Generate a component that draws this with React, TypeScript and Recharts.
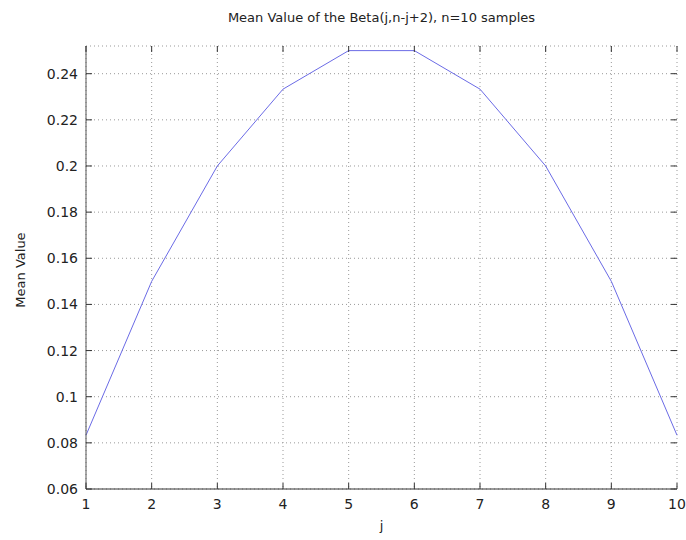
import { LineChart, Line, XAxis, YAxis, CartesianGrid } from 'recharts'

const jValues = [1, 2, 3, 4, 5, 6, 7, 8, 9, 10]
const meanValues = [0.0833, 0.15, 0.2, 0.2333, 0.25, 0.25, 0.2333, 0.2, 0.15, 0.0833]
const xTicks = [1, 2, 3, 4, 5, 6, 7, 8, 9, 10]
const yTicks = [0.06, 0.08, 0.1, 0.12, 0.14, 0.16, 0.18, 0.2, 0.22, 0.24]

const chartData = jValues.map((j, i) => ({ j, mean: meanValues[i] }))

const W = 686
const H = 540
const MARGIN = { top: 46, right: 9, bottom: 21, left: 26 }
const Y_AXIS_W = 60
const X_AXIS_H = 30
const PLOT_W = W - MARGIN.left - MARGIN.right - Y_AXIS_W
const PLOT_H = H - MARGIN.top - MARGIN.bottom - X_AXIS_H
const FONT = '"DejaVu Sans", sans-serif'
const TICK_LEN = 6
const X_MARGIN = 10
const Y_MARGIN = 8

const fmt = (v: number) => String(Number(v.toFixed(2)))

function XTick(props: any) {
  const { x, y, payload } = props
  const base = y - X_MARGIN
  const top = base - PLOT_H
  return (
    <g>
      <line x1={x} x2={x} y1={base} y2={base - TICK_LEN} stroke="#333" />
      <line x1={x} x2={x} y1={top} y2={top + TICK_LEN} stroke="#333" />
      <text x={x} y={base + 20} textAnchor="middle" fontSize={14} fontFamily={FONT} fill="#222">
        {payload.value}
      </text>
    </g>
  )
}

function YTick(props: any) {
  const { x, y, payload } = props
  const base = x + Y_MARGIN
  const right = base + PLOT_W
  return (
    <g>
      <line x1={base} x2={base + TICK_LEN} y1={y} y2={y} stroke="#333" />
      <line x1={right} x2={right - TICK_LEN} y1={y} y2={y} stroke="#333" />
      <text x={base - 8} y={y + 5} textAnchor="end" fontSize={14} fontFamily={FONT} fill="#222">
        {fmt(payload.value)}
      </text>
    </g>
  )
}

export default function App() {
  return (
    <div style={{ position: 'fixed', left: 0, top: 0, width: W, height: H, background: '#fff' }}>
      <div
        style={{
          position: 'absolute',
          top: 10,
          left: MARGIN.left + Y_AXIS_W,
          width: PLOT_W,
          textAlign: 'center',
          fontFamily: FONT,
          fontSize: 13,
          color: '#222',
        }}
      >
        Mean Value of the Beta(j,n-j+2), n=10 samples
      </div>
      <div
        style={{
          position: 'absolute',
          left: 20,
          top: 270,
          transform: 'translate(-50%, -50%) rotate(-90deg)',
          whiteSpace: 'nowrap',
          fontFamily: FONT,
          fontSize: 13,
          color: '#222',
        }}
      >
        Mean Value
      </div>
      <div
        style={{
          position: 'absolute',
          top: 518,
          left: MARGIN.left + Y_AXIS_W,
          width: PLOT_W,
          textAlign: 'center',
          fontFamily: FONT,
          fontSize: 13,
          color: '#222',
        }}
      >
        j
      </div>
      <LineChart width={W} height={H} data={chartData} margin={MARGIN}>
        <CartesianGrid stroke="#999" strokeDasharray="1 3" />
        <XAxis
          dataKey="j"
          type="number"
          domain={[1, 10]}
          ticks={xTicks}
          height={X_AXIS_H}
          tickSize={0}
          tickMargin={X_MARGIN}
          tick={<XTick />}
          axisLine={{ stroke: '#333' }}
          interval={0}
        />
        <XAxis
          xAxisId="top"
          orientation="top"
          dataKey="j"
          type="number"
          domain={[1, 10]}
          height={0}
          tick={false}
          tickLine={false}
          axisLine={{ stroke: '#999', strokeWidth: 1.5 }}
        />
        <YAxis
          type="number"
          domain={[0.06, 0.252]}
          ticks={yTicks}
          width={Y_AXIS_W}
          tickSize={0}
          tickMargin={Y_MARGIN}
          tick={<YTick />}
          axisLine={{ stroke: '#555' }}
          interval={0}
        />
        <YAxis
          yAxisId="right"
          orientation="right"
          type="number"
          domain={[0.06, 0.252]}
          width={0}
          tick={false}
          tickLine={false}
          axisLine={{ stroke: '#555' }}
        />
        <Line
          type="linear"
          dataKey="mean"
          stroke="#6b6be6"
          strokeWidth={1}
          dot={false}
          isAnimationActive={false}
        />
      </LineChart>
    </div>
  )
}
